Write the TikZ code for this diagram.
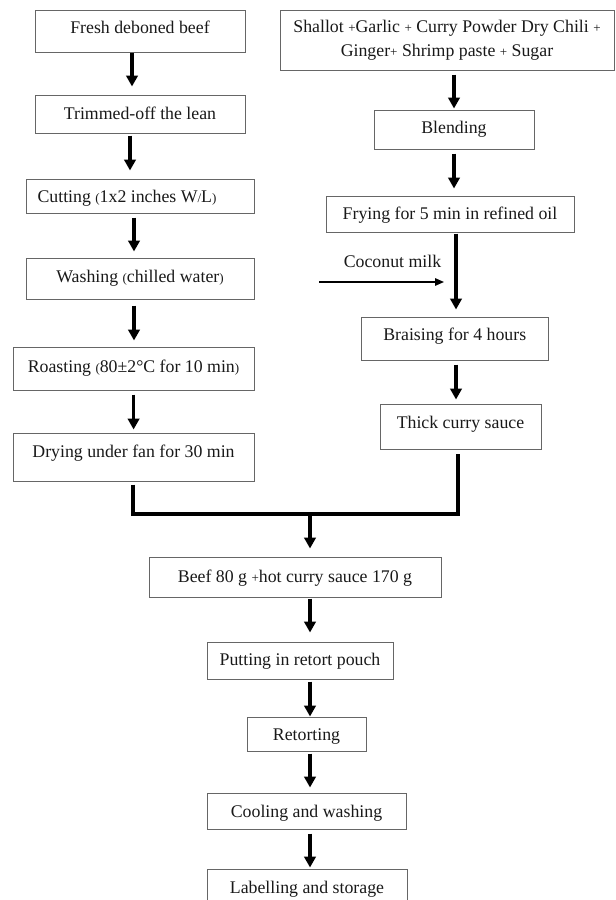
\documentclass[tikz,border=0pt]{standalone}
\usepackage{fontspec}
\setmainfont{Liberation Serif}
\usetikzlibrary{arrows.meta}
\newcommand\smc[1]{{\fontsize{13}{13}\selectfont #1}}
\begin{document}
\begin{tikzpicture}[x=1pt,y=-1pt,
  box/.style={draw=black!60, line width=1pt, inner sep=0pt, font=\fontsize{17.8}{21}\selectfont, text=black!90},
  arr/.style={line width=3.4pt, -{Triangle[length=11pt,width=11.5pt]}},
  thk/.style={line width=3.4pt},
  tarr/.style={line width=1.4pt, -{Triangle[length=9pt,width=7.5pt]}},
  lbl/.style={inner sep=0pt, font=\fontsize{17.8}{21}\selectfont, text=black!90}]
\useasboundingbox (0,0) rectangle (616,900);
\clip (0,0) rectangle (616,900);
% left column
\node[box, minimum width=210pt, text height=23pt, text depth=19pt] (fresh) at (140,31) {Fresh deboned beef};
\node[box, minimum width=210pt, text height=24pt, text depth=14pt] (trim) at (140,114) {Trimmed-off the lean};
\node[box, minimum width=228pt, text height=23pt, text depth=11pt] (cut) at (140,196) {Cutting \smc{(}1x2 inches W\smc{/}L\smc{)}\hspace*{26pt}};
\node[box, minimum width=228pt, text height=24pt, text depth=17pt] (wash) at (140,278.5) {Washing \smc{(}chilled water\smc{)}};
\node[box, minimum width=241pt, text height=25pt, text depth=18pt] (roast) at (133.5,368.5) {Roasting \smc{(}80±2°C for 10 min\smc{)}};
\node[box, minimum width=241pt, text height=24pt, text depth=24pt] (dry) at (133.5,457) {Drying under fan for 30 min};
% right column
\node[box, minimum width=334pt, minimum height=60pt, align=center, font=\fontsize{17.8}{24}\selectfont] (mix) at (447,40) {Shallot \smc{+}Garlic \smc{+} Curry Powder Dry Chili \smc{+}\\ Ginger\smc{+} Shrimp paste \smc{+} Sugar};
\node[box, minimum width=160pt, text height=23pt, text depth=16pt] (blend) at (454,129.5) {Blending};
\node[box, minimum width=248pt, text height=23pt, text depth=13pt] (fry) at (450,214) {Frying for 5 min in refined oil};
\node[box, minimum width=186.5pt, text height=23pt, text depth=20pt] (braise) at (454.75,338.5) {Braising for 4 hours};
\node[box, minimum width=161pt, text height=24pt, text depth=21pt] (thick) at (460.5,426.5) {Thick curry sauce};
\node[lbl, anchor=base] (cmlab) at (392.5,267) {Coconut milk};
% bottom column
\node[box, minimum width=292pt, text height=25pt, text depth=15pt] (beef) at (295,577) {Beef 80 g \smc{+}hot curry sauce 170 g};
\node[box, minimum width=186pt, text height=23pt, text depth=14pt] (put) at (300,660.5) {Putting in retort pouch};
\node[box, minimum width=119pt, text height=23pt, text depth=11pt] (ret) at (306.5,734) {Retorting};
\node[box, minimum width=199pt, text height=24pt, text depth=12pt] (cool) at (306.5,811) {Cooling and washing};
\node[box, minimum width=200pt, text height=24pt, text depth=17pt] (lab) at (307,889.5) {Labelling and storage};
% left arrows
\draw[arr, shorten >=8pt] (132,0 |- fresh.south) -- (132,0 |- trim.north);
\draw[arr, shorten <=2pt, shorten >=8pt] (130,0 |- trim.south) -- (130,0 |- cut.north);
\draw[arr, shorten <=4pt, shorten >=6pt] (134,0 |- cut.south) -- (134,0 |- wash.north);
\draw[arr, shorten <=6pt, shorten >=6pt] (134,0 |- wash.south) -- (134,0 |- roast.north);
\draw[arr, shorten <=4pt, shorten >=3pt] (133.6,0 |- roast.south) -- (133.6,0 |- dry.north);
% right arrows
\draw[arr, shorten <=4pt, shorten >=1pt] (454,0 |- mix.south) -- (454,0 |- blend.north);
\draw[arr, shorten <=4pt, shorten >=7pt] (454,0 |- blend.south) -- (454,0 |- fry.north);
\draw[arr, shorten <=1pt, shorten >=7pt] (456,0 |- fry.south) -- (456,0 |- braise.north);
\draw[arr, shorten <=4pt, shorten >=4pt] (456,0 |- braise.south) -- (456,0 |- thick.north);
\coordinate (cm0) at (319,282);
\coordinate (cm1) at (444,282);
\draw[tarr] (cm0) -- (cm1);
% merge
\coordinate (mj) at (310,514);
\draw[thk, shorten <=3pt, shorten >=4pt] (133,0 |- dry.south) |- (mj) -| (458,0 |- thick.south);
\draw[arr, shorten >=8pt] (mj) -- (310,0 |- beef.north);
% bottom arrows
\draw[arr, shorten <=1pt, shorten >=9pt] (310,0 |- beef.south) -- (310,0 |- put.north);
\draw[arr, shorten <=2pt] (310,0 |- put.south) -- (310,0 |- ret.north);
\draw[arr, shorten <=2pt, shorten >=5pt] (310,0 |- ret.south) -- (310,0 |- cool.north);
\draw[arr, shorten <=4pt, shorten >=1pt] (310,0 |- cool.south) -- (310,0 |- lab.north);
\end{tikzpicture}
\end{document}
